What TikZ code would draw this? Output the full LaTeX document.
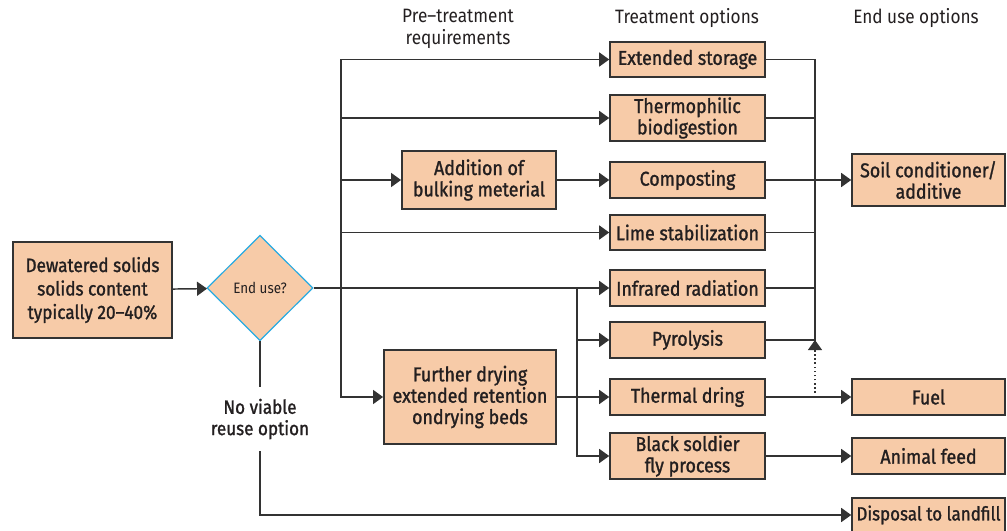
\documentclass[tikz,border=0pt]{standalone}
\usepackage{fontspec}
\setmainfont{Fira Sans}[FakeStretch=0.89]
\newfontfamily\boxfont{Fira Sans}[FakeStretch=0.89,FakeBold=1.3,Ligatures=TeX]
\usetikzlibrary{arrows.meta, shapes.geometric}
\definecolor{peach}{RGB}{247,203,168}
\definecolor{ink}{RGB}{35,31,32}
\definecolor{edge}{RGB}{51,51,51}
\definecolor{sky}{RGB}{41,171,226}

\begin{document}
\begin{tikzpicture}[x=0.75pt,y=-0.75pt,
    box/.style={draw=edge, line width=1.4pt, fill=peach, text=ink, align=center, inner sep=0pt,
      font=\boxfont\fontsize{15}{16}\selectfont, minimum width=116pt},
    head/.style={text=ink, align=center, font=\fontsize{14.5}{16}\selectfont},
    line/.style={draw=edge, line width=1.1pt},
    arr/.style={line, -{Triangle[length=7.5pt,width=10.5pt]}}]
        \useasboundingbox (0,0) rectangle (1007,531);

        \node[head] (pre) at (458,29) {Pre–treatment\\requirements};
        \node[head] (treat) at (687,18) {Treatment options};
        \node[head] (enduse) at (916,18) {End use options};

        \node[box, minimum width=119pt, minimum height=72pt, font=\boxfont\fontsize{14.5}{17.6}\selectfont]
          (dew) at (92.5,290) {Dewatered solids\\solids content\\typically 20–40\%};
        \node[diamond, draw=sky, line width=0.9pt, fill=peach, text=ink, inner sep=0pt,
          minimum width=79.5pt, minimum height=79pt, font=\fontsize{11.3}{13}\selectfont]
          (use) at (260,288) {End use?};
        \node[text=ink, align=center, inner ysep=9pt, font=\boxfont\fontsize{14.4}{16}\selectfont]
          (nv) at (260,419) {No viable\\reuse option};

        \node[box, minimum width=115.5pt, minimum height=43.5pt] (add) at (479,180) {Addition of\\bulking meterial};
        \node[box, minimum width=129pt, minimum height=71pt] (dry) at (470,397) {Further drying\\extended retention\\ondrying beds};

        \node[box, minimum height=26.5pt] (ext) at (687.5,59.5) {Extended storage};
        \node[box, minimum height=34.5pt] (thermo) at (687.5,118) {Thermophilic\\biodigestion};
        \node[box, minimum height=26.5pt] (comp) at (687.5,180) {Composting};
        \node[box, minimum height=26.5pt] (lime) at (687.5,232.5) {Lime stabilization};
        \node[box, minimum height=27pt] (infra) at (687.5,288) {Infrared radiation};
        \node[box, minimum height=27pt] (pyro) at (687.5,340) {Pyrolysis};
        \node[box, minimum height=27pt] (therm) at (687.5,397) {Thermal dring};
        \node[box, minimum height=34.5pt] (bsf) at (687.5,456) {Black soldier\\fly process};

        \node[box, minimum width=114.5pt, minimum height=39pt] (soil) at (928.5,180) {Soil conditioner/\\additive};
        \node[box, minimum width=114.5pt, minimum height=27.5pt] (fuel) at (928.5,397) {Fuel};
        \node[box, minimum width=114.5pt, minimum height=27pt] (feed) at (928.5,456) {Animal feed};
        \node[box, minimum width=114.5pt, minimum height=26pt, font=\boxfont\fontsize{14.3}{16}\selectfont]
          (land) at (928.5,515) {Disposal to landfill};

        % feed lines
        \coordinate (t1) at (341,288);
        \coordinate (t2) at (577,288);
        \coordinate (rb) at (815,340);

        \draw[arr] (dew) -- (use);
        \draw[arr] (use.east) -- (infra.west);
        \draw[arr] (t1) |- (ext.west);
        \draw[arr] (t1) |- (thermo.west);
        \draw[arr] (t1) |- (add.west);
        \draw[arr] (t1) |- (lime.west);
        \draw[arr] (t1) |- (dry.west);
        \draw[arr] (add) -- (comp);
        \draw[arr] (t2) |- (pyro.west);
        \draw[arr] (t2) |- (bsf.west);
        \draw[arr] (dry) -- (therm);

        % to end uses
        \draw[line] (ext.east) -| (rb) -- (pyro.east);
        \draw[line] (thermo.east) -- (thermo.east -| rb);
        \draw[line] (lime.east) -- (lime.east -| rb);
        \draw[line] (infra.east) -- (infra.east -| rb);
        \draw[arr] (comp) -- (soil);
        \draw[arr, dotted, line width=0.8pt] (therm.east -| rb) -- (rb);
        \draw[arr] (therm) -- (fuel);
        \draw[arr] (bsf) -- (feed);

        \draw[line] (use.south) -- (nv.north);
        \draw[arr] (nv.south) |- (land.west);
\end{tikzpicture}
\end{document}
